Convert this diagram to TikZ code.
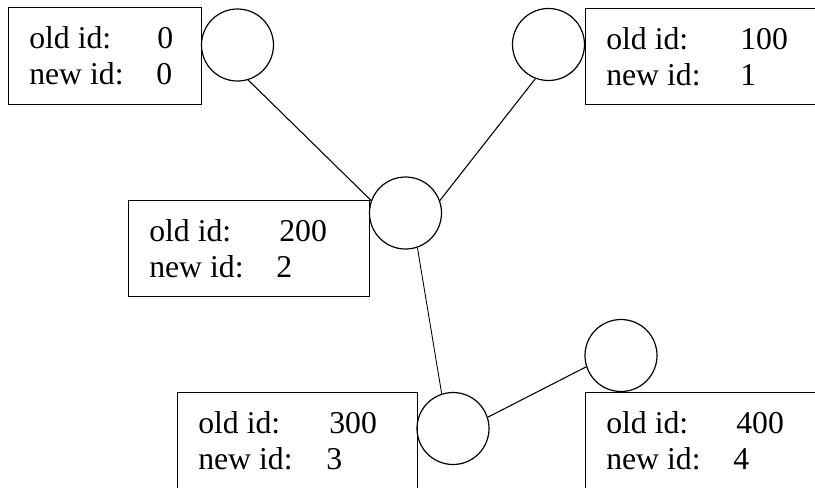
\documentclass[tikz,border=0pt]{standalone}
\usepackage{fontspec}
\setmainfont{Liberation Serif}
\begin{document}
\begin{tikzpicture}[x=0.75pt,y=-0.75pt,
  vertex/.style={draw,circle,minimum size=54pt,inner sep=0pt,line width=0.9pt},
  idbox/.style={draw,rectangle,anchor=north west,inner sep=0pt,line width=0.9pt},
  idtext/.style={anchor=base west,inner sep=0pt,font=\fontsize{23.8}{28}\selectfont}]
\useasboundingbox (0,0) rectangle (815,487);
\clip (0,0) rectangle (815,487);
\foreach \nm/\x/\y/\w/\h/\old/\new/\da/\db in
  {0/8/7/193/97/0/0/128/127,
   1/585/8/260/96/100/1/134/134,
   2/128/200/241/96/200/2/130/127,
   3/177/392/240/110/300/3/131/128,
   4/585/392/260/110/400/4/130/127}
{
  \node[idbox,minimum width=0.75pt*\w,minimum height=0.75pt*\h] (b\nm) at (\x,\y) {};
  \node[idtext] (o\nm) at (\x+21,\y+41) {old id:};
  \node[idtext] (n\nm) at (\x+21,\y+77) {new id:};
  \node[idtext] (ov\nm) at (\x+21+\da,\y+41) {\old};
  \node[idtext] (nv\nm) at (\x+21+\db,\y+77) {\new};
}
\node[vertex] (c0) at (237.5,45) {};
\node[vertex] (c1) at (548.5,44.5) {};
\node[vertex] (c2) at (405.5,213) {};
\node[vertex] (c3) at (453,428.5) {};
\node[vertex] (c4) at (621,355.5) {};
\draw[line width=0.8pt] (c0.-73) -- (c2.160);
\draw[line width=0.8pt] (c1.-111) -- (c2.20);
\draw[line width=0.65pt] (c2.-71) -- (c3.108);
\draw[line width=0.8pt] (c3.18) -- (c4.198);
\end{tikzpicture}
\end{document}
